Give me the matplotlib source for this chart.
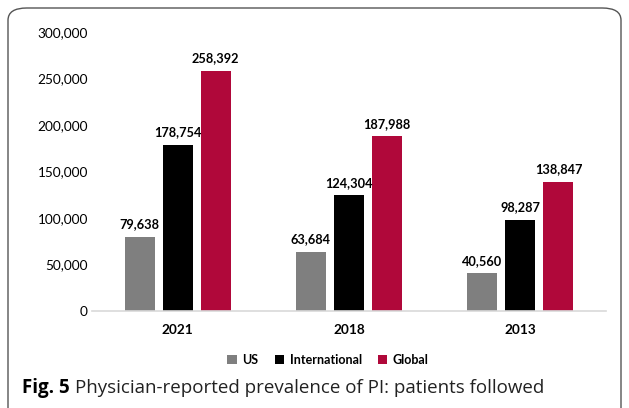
import matplotlib
matplotlib.use('agg')
import matplotlib.pyplot as plt
from matplotlib.patches import FancyBboxPatch
import numpy as np

years = ['2021', '2018', '2013']
series = ['US', 'International', 'Global']
us = [79638, 63684, 40560]
international = [178754, 124304, 98287]
global_ = [258392, 187988, 138847]
colors = ['#7f7f7f', '#000000', '#b0083a']

plt.rcParams['font.family'] = ['Lato', 'DejaVu Sans']

fig = plt.figure(figsize=(6.29, 4.08), dpi=100)
ax = fig.add_axes([92 / 629, 1 - 311 / 408, 514 / 629, 279 / 408])

x = np.arange(len(years))
width = 0.175
pitch = 0.222
for i, (name, vals) in enumerate(zip(series, [us, international, global_])):
    pos = x + (i - 1) * pitch
    ax.bar(pos, vals, width, color=colors[i], label=name)
    for p, v in zip(pos, vals):
        ax.text(p, v + 7000, f'{v:,}', ha='center', va='bottom',
                fontsize=9.2, fontweight='bold')

ax.set_xlim(-0.5, 2.5)
ax.set_ylim(0, 300000)
ax.set_yticks(range(0, 300001, 50000))
ax.set_yticklabels([f'{t:,}' for t in range(0, 300001, 50000)], fontsize=9.8)
ax.set_xticks(x)
ax.set_xticklabels(years, fontsize=9.8, fontweight='bold')
ax.tick_params(length=0, pad=3)
ax.tick_params(axis='x', pad=9)
for s in ['top', 'right', 'left']:
    ax.spines[s].set_visible(False)
ax.spines['bottom'].set_color('#d9d9d9')
ax.spines['bottom'].set_linewidth(1.2)
ax.patch.set_alpha(0)

leg = fig.legend(loc='center', bbox_to_anchor=(328 / 629, 1 - 360 / 408), ncol=3,
                 frameon=False, handlelength=0.75, handleheight=0.75,
                 handletextpad=0.45, columnspacing=1.3,
                 prop={'size': 9, 'weight': 'bold'})

fig.text(22 / 629, 1 - 388 / 408, 'Fig. 5', fontsize=13.5, fontweight='bold',
         va='center', ha='left', family=['Open Sans', 'DejaVu Sans'])
fig.text(75 / 629, 1 - 388 / 408, 'Physician-reported prevalence of PI: patients followed',
         fontsize=13.5, va='center', ha='left', family=['Open Sans', 'DejaVu Sans'],
         color='#222222')

box = FancyBboxPatch((8 / 629, -0.1), 613 / 629, 1.1 - 8 / 408,
                     boxstyle='round,pad=0,rounding_size=0.03',
                     transform=fig.transFigure, fill=False,
                     edgecolor='#555555', linewidth=1.0)
fig.patches.append(box)

fig.savefig('out.png', dpi=100)
